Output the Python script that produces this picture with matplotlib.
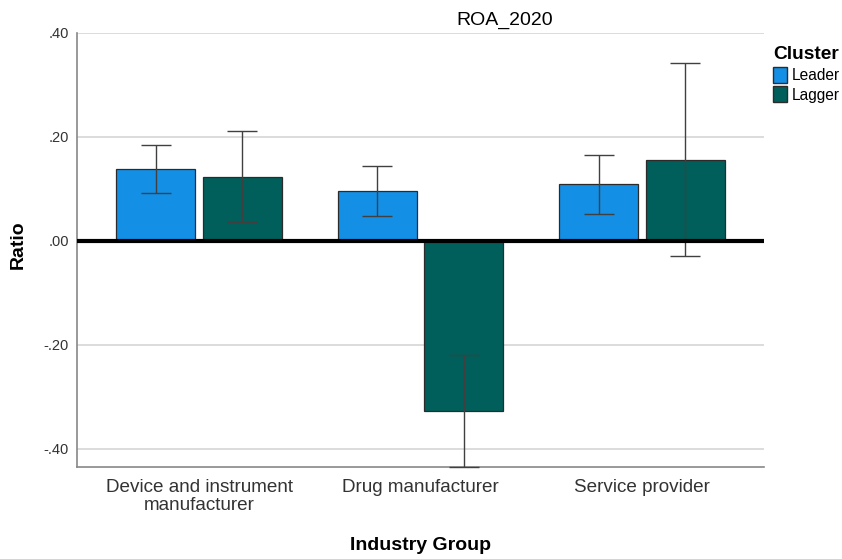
import matplotlib.pyplot as plt
from matplotlib.patches import Patch
from matplotlib.ticker import FuncFormatter
import numpy as np

plt.rcParams['font.family'] = ['Liberation Sans', 'DejaVu Sans']

# data
groups = ["Device and instrument\nmanufacturer", "Drug manufacturer", "Service provider"]
clusters = ["Leader", "Lagger"]
leader_mean = [0.138, 0.096, 0.109]
leader_lo = [0.092, 0.047, 0.051]
leader_hi = [0.185, 0.145, 0.166]
lagger_mean = [0.123, -0.327, 0.156]
lagger_lo = [0.036, -0.435, -0.030]
lagger_hi = [0.211, -0.219, 0.342]

colors = ["#138FE6", "#005E5B"]


def fmt(v, pos):
	#SPSS style ticks: .40, -.20
	s = "%.2f" % v
	return s.replace("0.", ".")


def main():
	fig = plt.figure(figsize=(8.42, 5.59), dpi=100)
	ax = fig.add_axes([77/842, 1-467/559, 687/842, 434/559])

	x = np.arange(len(groups))
	width = 0.357
	offset = 0.196
	means = [leader_mean, lagger_mean]
	los = [leader_lo, lagger_lo]
	his = [leader_hi, lagger_hi]
	for i in range(2):
		xs = x + (i*2-1)*offset
		m = np.array(means[i])
		err = np.array([m - np.array(los[i]), np.array(his[i]) - m])
		ax.bar(xs, m, width, color=colors[i], edgecolor="#2b2b2b", linewidth=0.9, zorder=2)
		ax.errorbar(xs, m, yerr=err, fmt="none", ecolor="#404040", elinewidth=1.0,
					capsize=11, capthick=1.0, zorder=4, clip_on=False)

	ax.axhline(0, color="black", linewidth=3, zorder=5)

	ax.set_xlim(-0.551, 2.551)
	ax.set_ylim(-0.435, 0.40)
	ax.set_yticks([-0.4, -0.2, 0.0, 0.2, 0.4])
	ax.yaxis.set_major_formatter(FuncFormatter(fmt))
	ax.grid(axis="y", color="#d6d6d6", linewidth=1.2, zorder=0)
	ax.set_axisbelow(True)
	ax.set_xticks(x)
	ax.set_xticklabels(groups, fontsize=13.6, color="#333333", linespacing=1.05)
	ax.tick_params(axis="x", length=0, pad=9)
	ax.tick_params(axis="y", length=0, labelsize=10.5, colors="#333333", pad=6)

	for s in ["top", "right"]:
		ax.spines[s].set_visible(False)
	for s in ["left", "bottom"]:
		ax.spines[s].set_color("#888888")
		ax.spines[s].set_linewidth(1.2)

	fig.text(505/842, 1-20/559, "ROA_2020", ha="center", va="center", fontsize=14)
	fig.text(18/842, 1-245/559, "Ratio", ha="center", va="center", rotation=90,
			 fontsize=14, fontweight="bold")
	fig.text(420/842, 1-545/559, "Industry Group", ha="center", va="center",
			 fontsize=14, fontweight="bold")

	handles = [Patch(facecolor=colors[i], edgecolor="#2b2b2b", label=clusters[i]) for i in range(2)]
	leg = fig.legend(handles=handles, title="Cluster", loc="upper left",
					 bbox_to_anchor=(767/842, 1-40/559), frameon=False, fontsize=11.2,
					 handlelength=0.9, handleheight=1.2, handletextpad=0.3,
					 labelspacing=0.22, borderaxespad=0)
	leg.get_title().set_fontweight("bold")
	leg.get_title().set_fontsize(13.8)
	leg._legend_box.align = "left"

	fig.savefig("out.png", dpi=100)


if __name__ == '__main__':
	main()
